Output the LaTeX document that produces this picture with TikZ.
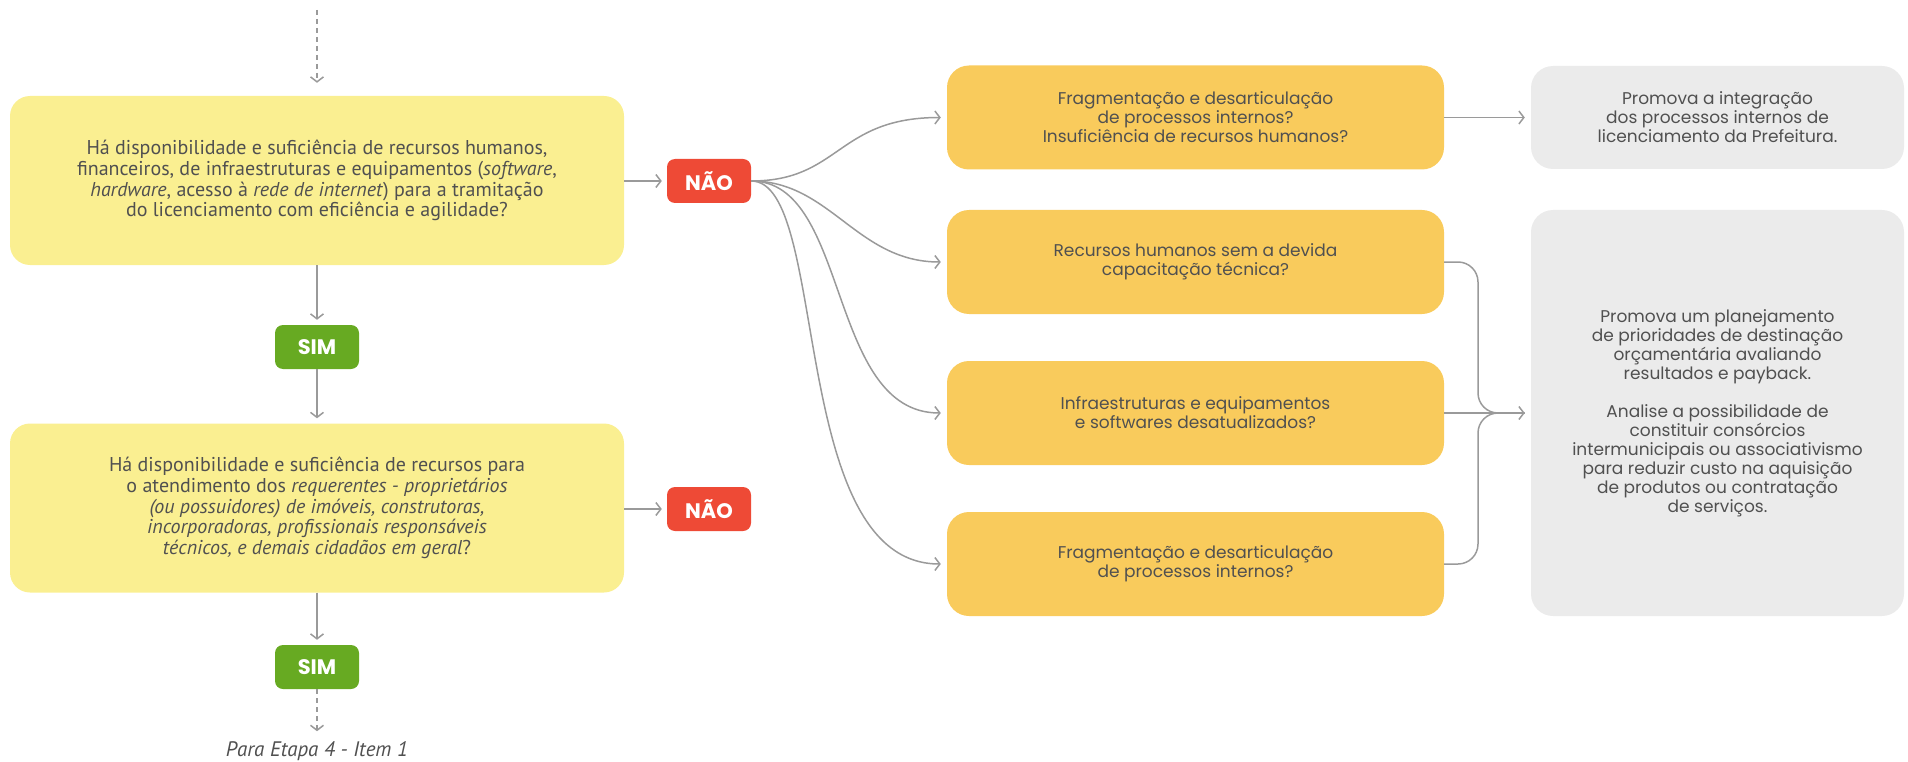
\documentclass[tikz,border=0pt]{standalone}
\usepackage{fontspec}
\setmainfont{Poppins}
\newfontfamily\estreita{PT Sans}
\usetikzlibrary{arrows.meta}
\definecolor{amarelo}{HTML}{FAEF91}
\definecolor{laranja}{HTML}{F9CB5C}
\definecolor{cinza}{HTML}{EBEBEB}
\definecolor{vermelho}{HTML}{EE4A36}
\definecolor{verde}{HTML}{67AA22}
\definecolor{texto}{HTML}{505050}
\definecolor{linha}{HTML}{9A9A9A}

\begin{document}
\begin{tikzpicture}[x=1pt,y=-1pt,
    every node/.style={inner sep=0pt,align=center,text=texto},
    pergunta/.style={fill=amarelo,rounded corners=20pt,minimum width=614pt,minimum height=169pt,font=\estreita\fontsize{20}{20.7}\selectfont},
    causa/.style={fill=laranja,rounded corners=22pt,minimum width=497pt,minimum height=104pt,font=\fontsize{17}{19}\selectfont},
    acao/.style={fill=cinza,rounded corners=22pt,minimum width=373pt,font=\fontsize{17}{19}\selectfont},
    nao/.style={fill=vermelho,rounded corners=8pt,minimum width=84pt,minimum height=44pt,text=white,font=\bfseries\fontsize{21}{22}\selectfont},
    sim/.style={nao,fill=verde},
    seta/.style={draw=linha,line width=1.5pt,-{Straight Barb[length=5pt,width=13pt]}},
    juncao/.style={draw=linha,line width=1.5pt,rounded corners=20pt}]
\useasboundingbox (0,0) rectangle (1908,762);

\node[pergunta] (q1) at (317,180.5) {Há disponibilidade e suficiência de recursos humanos,\\
    financeiros, de infraestruturas e equipamentos (\textit{software},\\
    \textit{hardware}, acesso à \textit{rede de internet}) para a tramitação\\
    do licenciamento com eficiência e agilidade?};
\node[sim] (s1) at (317,347) {SIM};
\node[pergunta] (q2) at (317,508) {Há disponibilidade e suficiência de recursos para\\
    o atendimento dos \textit{requerentes - proprietários}\\
    \textit{(ou possuidores) de imóveis, construtoras,}\\
    \textit{incorporadoras, profissionais responsáveis}\\
    \textit{técnicos, e demais cidadãos em geral}?};
\node[sim] (s2) at (317,667) {SIM};
\node[font=\estreita\itshape\fontsize{21}{22}\selectfont] (etapa) at (317,751) {Para Etapa 4 - Item 1};
\node[nao] (n1) at (709,181) {NÃO};
\node[nao] (n2) at (709,509) {NÃO};

\node[causa] (c1) at (1195.5,117.5) {Fragmentação e desarticulação\\de processos internos?\\Insuficiência de recursos humanos?};
\node[causa] (c2) at (1195.5,262) {Recursos humanos sem a devida\\capacitação técnica?};
\node[causa] (c3) at (1195.5,413) {Infraestruturas e equipamentos\\e softwares desatualizados?};
\node[causa] (c4) at (1195.5,564) {Fragmentação e desarticulação\\de processos internos?};

\node[acao,minimum height=103pt] (a1) at (1717.5,117.5) {Promova a integração\\dos processos internos de\\licenciamento da Prefeitura.};
\node[acao,minimum height=406pt] (a2) at (1717.5,413) {Promova um planejamento\\de prioridades de destinação\\orçamentária avaliando\\resultados e payback.\\[19pt]
    Analise a possibilidade de\\constituir consórcios\\intermunicipais ou associativismo\\para reduzir custo na aquisição\\de produtos ou contratação\\de serviços.};

\coordinate (topo) at (317,10);
\coordinate (m) at (1478,413);

\draw[seta,dash pattern=on 5pt off 4pt,shorten >=13pt] (topo) -- (q1);
\draw[seta,shorten >=5pt] (q1) -- (s1);
\draw[seta,shorten >=5pt] (s1) -- (q2);
\draw[seta,shorten >=5pt] (q2) -- (s2);
\draw[seta,dash pattern=on 5pt off 4pt,shorten >=10pt] (s2) -- (etapa);
\draw[seta,shorten >=5pt] (q1.east |- n1) -- (n1);
\draw[seta,shorten >=5pt] (q2.east |- n2) -- (n2);

\draw[seta,shorten >=6pt] (n1.east) to[out=0,in=180,out distance=89pt,in distance=110pt] (c1.west);
\draw[seta,shorten >=6pt] (n1.east) to[out=0,in=180,out distance=79pt,in distance=90pt] (c2.west);
\draw[seta,shorten >=6pt] (n1.east) to[out=0,in=180,out distance=99pt,in distance=120pt] (c3.west);
\draw[seta,shorten >=6pt] (n1.east) to[out=0,in=180,out distance=79pt,in distance=160pt] (c4.west);

\draw[seta,shorten >=6pt] (c1) -- (a1);
\draw[juncao,shorten >=6pt] (c2.east) -| (m) -- (a2.west);
\draw[juncao,shorten >=6pt] (c4.east) -| (m) -- (a2.west);
\draw[seta,shorten >=6pt] (c3) -- (a2);
\end{tikzpicture}
\end{document}
